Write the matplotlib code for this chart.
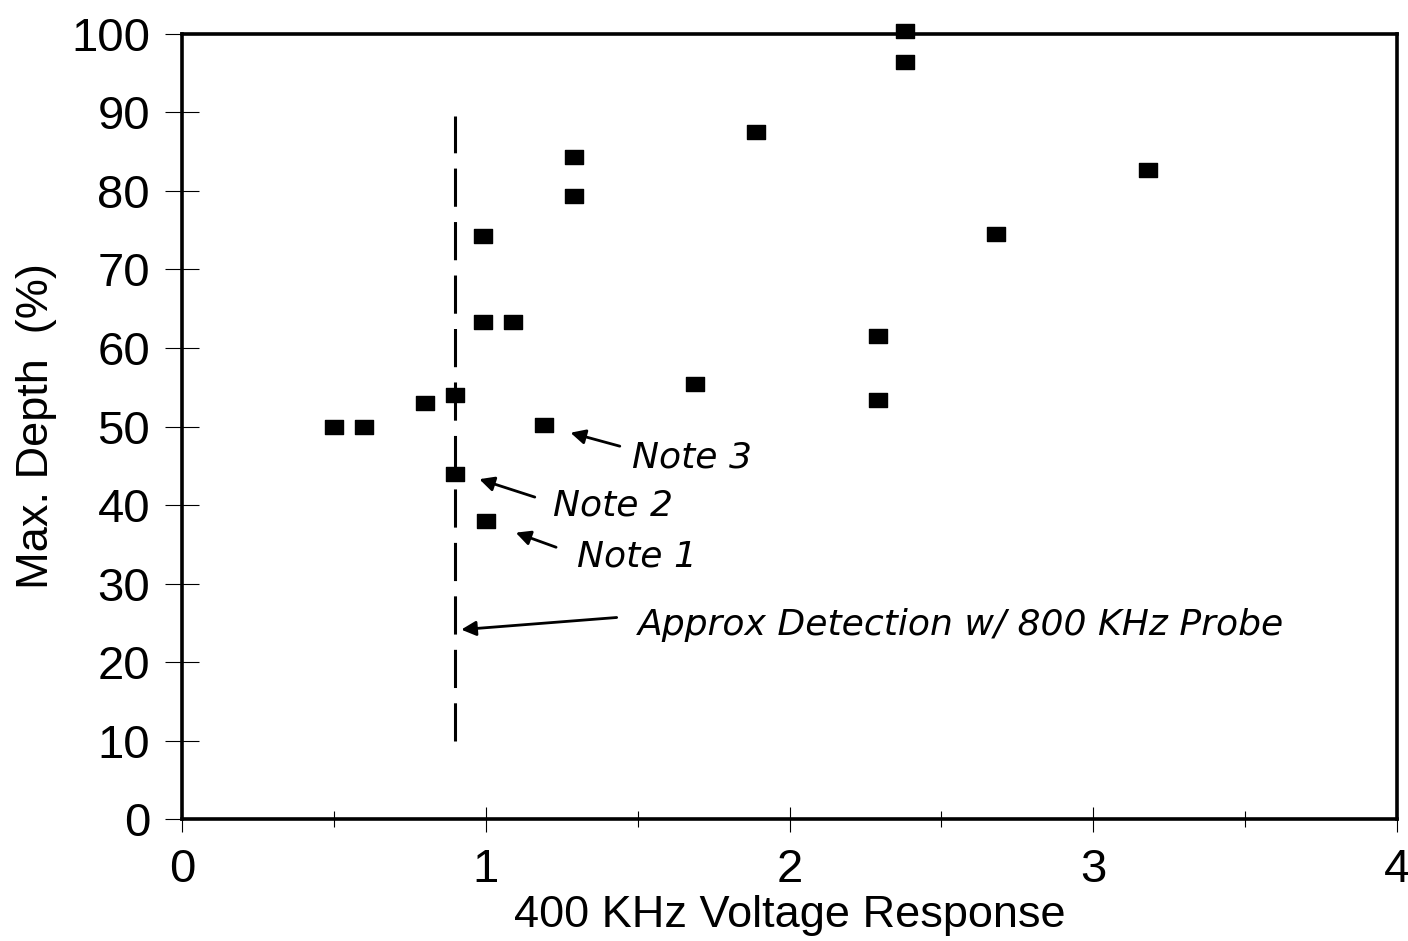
import matplotlib.pyplot as plt
import numpy as np
from matplotlib.path import Path
from matplotlib.ticker import MultipleLocator

# data
voltage = [0.5, 0.6, 0.8, 0.9, 0.9, 1.0, 0.99, 0.99, 1.09, 1.19, 1.29, 1.29,
           1.69, 1.89, 2.29, 2.29, 2.38, 2.38, 2.68, 3.18]
depth = [50, 50, 53, 54, 44, 38, 74.3, 63.3, 63.3, 50.2, 84.3, 79.4,
         55.4, 87.5, 61.5, 53.4, 100.4, 96.4, 74.5, 82.7]

detect_x = 0.9
detect_y = [10, 89.5]

notes = ["Note 3", "Note 2", "Note 1", "Approx Detection w/ 800 KHz Probe"]
note_text_xy = [(1.48, 46.1), (1.22, 40.0), (1.30, 33.4), (1.50, 24.7)]
note_tail_xy = [(1.45, 47.4), (1.17, 40.9), (1.24, 34.5), (1.44, 25.7)]
note_head_xy = [(1.27, 49.3), (0.97, 43.4), (1.09, 36.6), (0.91, 24.1)]

plt.rcParams['font.family'] = ['Liberation Sans', 'DejaVu Sans']

fig = plt.figure(figsize=(14.08, 9.41), dpi=100)
ax = fig.add_axes([0.1293, 0.1296, 0.8629, 0.8343])

# slightly wide rectangle marker, like the scanned excel squares
rect = Path([(-1, -0.75), (1, -0.75), (1, 0.75), (-1, 0.75), (-1, -0.75)],
            [Path.MOVETO, Path.LINETO, Path.LINETO, Path.LINETO, Path.CLOSEPOLY])
ax.plot(voltage, depth, linestyle="none", marker=rect, markersize=13,
        color="black", clip_on=False, zorder=3)

ax.plot([detect_x, detect_x], detect_y, color="black", linewidth=2.2,
        dashes=(12.5, 5), zorder=2)

for txt, tpos, tail, head in zip(notes, note_text_xy, note_tail_xy, note_head_xy):
    ax.text(tpos[0], tpos[1], txt, fontsize=26, style="italic",
            family=["DejaVu Sans"], fontweight="light",
            ha="left", va="center")
    ax.annotate("", xy=head, xytext=tail,
                arrowprops=dict(arrowstyle="-|>", color="black", lw=2,
                                mutation_scale=22))

ax.set_xlim(0, 4)
ax.set_ylim(0, 100)
ax.xaxis.set_major_locator(MultipleLocator(1))
ax.xaxis.set_minor_locator(MultipleLocator(0.5))
ax.yaxis.set_major_locator(MultipleLocator(10))

ax.tick_params(axis="x", which="major", direction="inout", length=18, width=0.8,
               labelsize=34, pad=12)
ax.tick_params(axis="x", which="minor", direction="inout", length=11, width=0.8)
ax.tick_params(axis="y", which="major", direction="inout", length=24, width=0.8,
               labelsize=34, pad=11)

for s in ax.spines.values():
    s.set_linewidth(2.6)

ax.set_xlabel("400 KHz Voltage Response", fontsize=32.5, labelpad=2)
ax.set_ylabel("Max. Depth  (%)", fontsize=32.5, labelpad=10)

plt.savefig("out.png", dpi=100)
